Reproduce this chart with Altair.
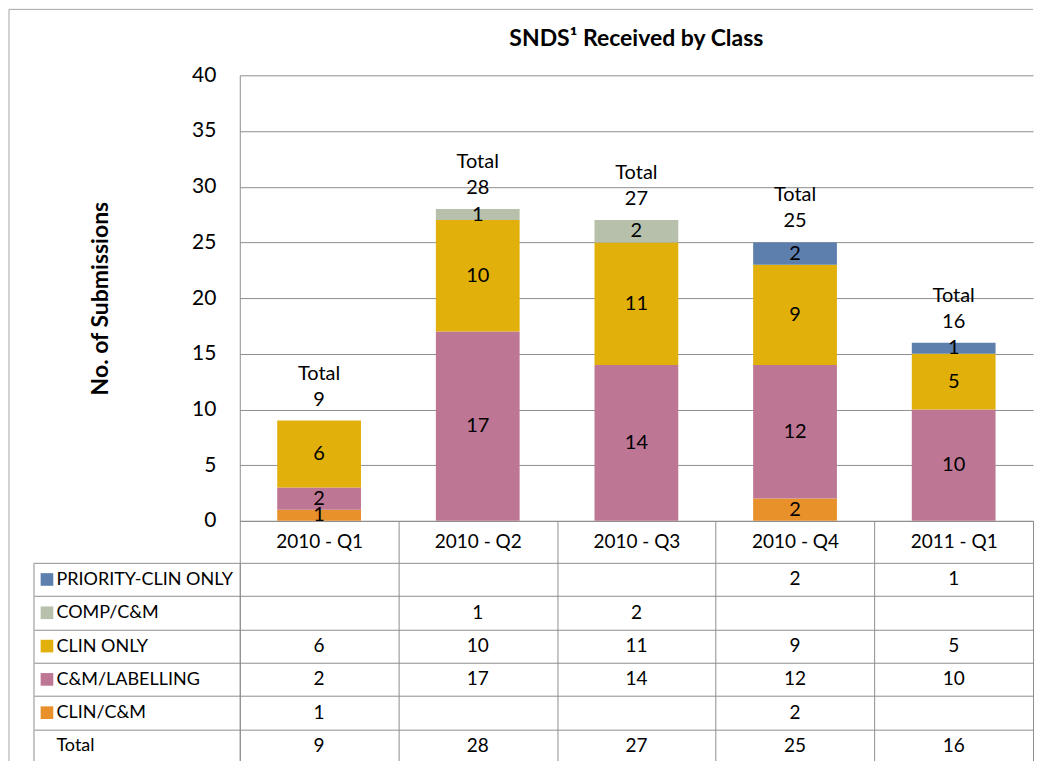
import altair as alt
import pandas as pd

# ---------------- data ----------------
quarters = ["2010 - Q1", "2010 - Q2", "2010 - Q3", "2010 - Q4", "2011 - Q1"]
# stack order: bottom -> top
classes = ["CLIN/C&M", "C&M/LABELLING", "CLIN ONLY", "COMP/C&M", "PRIORITY-CLIN ONLY"]
clin_cm = [1, None, None, 2, None]
cm_labelling = [2, 17, 14, 12, 10]
clin_only = [6, 10, 11, 9, 5]
comp_cm = [None, 1, 2, None, None]
priority_clin_only = [None, None, None, 2, 1]
totals = [9, 28, 27, 25, 16]
colors = ["#E8912B", "#BE7695", "#E1B00A", "#B6C0AA", "#5D7FAD"]
table_rows = ["PRIORITY-CLIN ONLY", "COMP/C&M", "CLIN ONLY", "C&M/LABELLING", "CLIN/C&M", "Total"]

series = dict(zip(classes, [clin_cm, cm_labelling, clin_only, comp_cm, priority_clin_only]))

recs = []
for k, cls in enumerate(classes):
    for q, v in zip(quarters, series[cls]):
        if v is not None:
            recs.append({"quarter": q, "cls": cls, "value": v, "order": k})
df = pd.DataFrame(recs)

tot_df = pd.DataFrame({"quarter": quarters, "total": totals,
                       "label": [f"Total\n{t}" for t in totals]})

tbl = []
for r in table_rows:
    vals = totals if r == "Total" else series[r]
    for q, v in zip(quarters, vals):
        tbl.append({"row": r, "quarter": q, "txt": "" if v is None else str(v)})
tbl_df = pd.DataFrame(tbl)
sq_df = pd.DataFrame({"row": classes, "cls": classes})

# ---------------- style ----------------
FONT = "Lato"
GRID = "#8E8E8E"
W, H = 794, 446
TH = 200
color_scale = alt.Scale(domain=classes, range=colors)

x_top = alt.X("quarter:N",
              scale=alt.Scale(domain=quarters, paddingInner=0, paddingOuter=0),
              axis=alt.Axis(title=None, labelFontSize=19, labelColor="black", labelAngle=0,
                            domainColor=GRID, tickColor=GRID, tickBand="extent", tickSize=42,
                            labelBaseline="middle", labelPadding=-21))
y_scale = alt.Scale(domain=[0, 40], nice=False)
y_axis = alt.Axis(values=list(range(0, 45, 5)), grid=True, gridColor=GRID, domainColor=GRID,
                  ticks=False, labelFontSize=21, labelColor="black", labelPadding=24,
                  title="No. of Submissions", titleFontSize=23, titleFontWeight="bold",
                  titleColor="black", titlePadding=79)

base = alt.Chart(df).transform_stack(
    stack="value", groupby=["quarter"], sort=[alt.SortField("order")], as_=["y0", "y1"]
).transform_calculate(mid="(datum.y0 + datum.y1) / 2")

bars = base.mark_bar(width=alt.RelativeBandSize(0.528)).encode(
    x=x_top,
    y=alt.Y("y0:Q", scale=y_scale, axis=y_axis),
    y2="y1:Q",
    color=alt.Color("cls:N", scale=color_scale, legend=None),
)
seg_labels = base.mark_text(fontSize=20, color="black", baseline="middle").encode(
    x=x_top, y=alt.Y("mid:Q", scale=y_scale, axis=y_axis), text="value:Q")

tot_labels = alt.Chart(tot_df).mark_text(fontSize=20, color="black", baseline="bottom",
                                         lineBreak="\n", lineHeight=26, dy=-37).encode(
    x=x_top, y=alt.Y("total:Q", scale=y_scale, axis=y_axis), text="label:N")

top = alt.layer(bars, seg_labels, tot_labels).properties(
    width=W, height=H,
    title=alt.TitleParams("SNDS\u00b9 Received by Class", fontSize=23, fontWeight="bold",
                          anchor="middle", frame="group", baseline="bottom", offset=-10,
                          color="black"))

# ---------------- table ----------------
x_tbl = alt.X("quarter:N", scale=alt.Scale(domain=quarters, paddingInner=0, paddingOuter=0),
              axis=alt.Axis(title=None, labels=False, ticks=False, domain=False, grid=True,
                            gridColor=GRID, tickBand="extent", orient="top"))
y_tbl = alt.Y("row:N", scale=alt.Scale(domain=table_rows, paddingInner=0, paddingOuter=0),
              axis=alt.Axis(title=None, labelAlign="left", labelPadding=-22, tickSize=206,
                            tickColor=GRID, tickBand="extent", grid=True, gridColor=GRID,
                            domainColor=GRID, labelFontSize=18, labelColor="black",
                            labelLimit=400))

cells = alt.Chart(tbl_df).mark_text(fontSize=19, color="black", baseline="middle").encode(
    x=x_tbl, y=y_tbl, text="txt:N")
squares = alt.Chart(sq_df).mark_square(size=160, opacity=1).encode(
    x=alt.value(-193), y=y_tbl, color=alt.Color("cls:N", scale=color_scale, legend=None))

one = pd.DataFrame({"a": [0]})
tbl_left = alt.Chart(one).mark_rule(color=GRID).encode(
    x=alt.value(-206), y=alt.value(0), y2=alt.value(TH))
border_top = alt.Chart(one).mark_rule(color="#A6A6A6").encode(
    x=alt.value(-231), x2=alt.value(W), y=alt.value(-554))
border_left = alt.Chart(one).mark_rule(color="#A6A6A6").encode(
    x=alt.value(-231), y=alt.value(-554), y2=alt.value(TH))

table = alt.layer(cells, squares, tbl_left, border_top, border_left).properties(
    width=W, height=TH)

chart = alt.vconcat(top, table, spacing=42, bounds="flush").properties(
    padding=0, background="white"
).configure(font=FONT).configure_view(stroke=None)

chart.save("out.html", embed_options={"renderer": "svg", "actions": False})
